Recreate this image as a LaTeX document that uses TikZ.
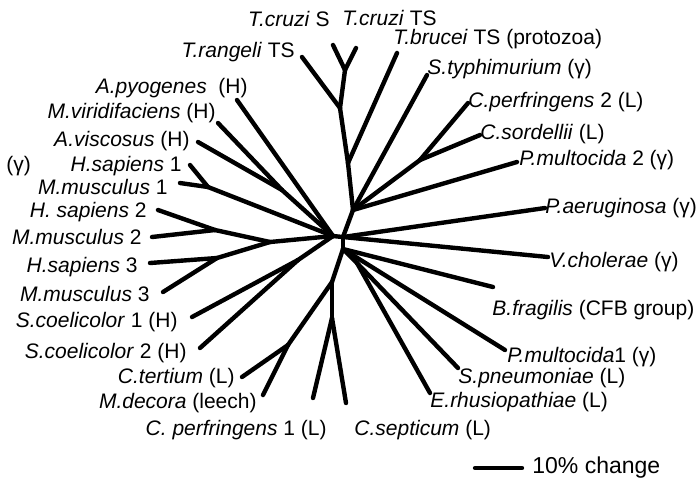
\documentclass[tikz,border=0pt]{standalone}
\usepackage{fontspec}
\setmainfont{Liberation Sans}
\usepackage{tkz-euclide}

\tikzset{
  branch/.style={line width=2.2pt, line cap=round, line join=round},
  taxon/.style={inner sep=0pt, font=\fontsize{10.5}{12}\selectfont},
}

\begin{document}
\begin{tikzpicture}[x=0.5pt, y=-0.5pt]
    \useasboundingbox (0,0) rectangle (700,479);
    % inner nodes of the tree
    \tkzDefPoints{333/236/L, 343/237/R, 353/210/U, 345/70/T1, 340/108/T2, 348/163/T3,
      420/160/Cn, 343/249/D, 357/263/Q, 332/282/K, 288/345/Mn, 332/318/Sn,
      282/190/V, 208/187/H1, 215/230/H2, 217/258/H3, 270/242/H23, 298/260/Sc}
    % leaves
    \tkzDefPoints{333/45/tcs, 356/48/tcts, 302/57/trts, 397/53/tbts, 427/75/styp,
      468/103/cpa, 480/135/csor, 517/162/pmb, 545/208/pae, 548/257/vch,
      493/287/bfr, 505/350/pma, 458/368/spn, 430/393/erh, 346/403/csep,
      313/398/cpb, 263/395/mdec, 242/377/cter, 200/348/scb, 192/317/sca,
      163/292/mmc, 150/263/hsc, 152/237/mmb, 158/210/hsb, 180/183/mma,
      190/165/hsa, 198/142/avis, 218/123/mvir, 237/100/apyo}
    \tkzDefPoints{475/468/sba, 522/468/sbb}
    \tkzDrawSegments[branch](T1,tcs T1,tcts T1,T2 T2,trts T2,T3 T3,tbts T3,U
      U,styp U,Cn Cn,cpa Cn,csor U,pmb U,R R,pae R,vch R,D)
    \tkzDrawSegments[branch](D,bfr D,pma D,Q Q,spn Q,erh D,K K,Sn Sn,cpb Sn,csep
      K,Mn Mn,cter Mn,mdec)
    \tkzDrawSegments[branch](L,R L,apyo L,V V,mvir V,avis L,H1 H1,hsa H1,mma
      L,H23 H23,H2 H2,hsb H2,mmb H23,H3 H3,hsc H3,mmc L,Sc Sc,sca Sc,scb)
    \tkzDrawSegment[branch](sba,sbb)
    % labels, right side
    \node[taxon, anchor=base east] (ltcs) at (330,26) {\textit{T.cruzi} S};
    \node[taxon, anchor=base west] (ltcts) at (342,25) {\textit{T.cruzi} TS};
    \node[taxon, anchor=base east] (ltrts) at (295,57) {\textit{T.rangeli} TS};
    \node[taxon, anchor=base west] (ltbts) at (393,44) {\textit{T.brucei} TS (protozoa)};
    \node[taxon, anchor=base west] (lstyp) at (427,74) {\textit{S.typhimurium} (γ)};
    \node[taxon, anchor=base west] (lcpa) at (468,107) {\textit{C.perfringens} 2 (L)};
    \node[taxon, anchor=base west] (lcsor) at (480,139) {\textit{C.sordellii} (L)};
    \node[taxon, anchor=base west] (lpmb) at (519,165) {\textit{P.multocida} 2 (γ)};
    \node[taxon, anchor=base west] (lpae) at (545,213) {\textit{P.aeruginosa} (γ)};
    \node[taxon, anchor=base west] (lvch) at (549,267) {\textit{V.cholerae} (γ)};
    \node[taxon, anchor=base west] (lbfr) at (492,315) {\textit{B.fragilis} (CFB group)};
    \node[taxon, anchor=base west] (lpma) at (507,362) {\textit{P.multocida}1 (γ)};
    \node[taxon, anchor=base west] (lspn) at (458,383) {\textit{S.pneumoniae} (L)};
    \node[taxon, anchor=base west] (lerh) at (430,407) {\textit{E.rhusiopathiae} (L)};
    \node[taxon, anchor=base west] (lcsep) at (354,435) {\textit{C.septicum} (L)};
    % labels, left side
    \node[taxon, anchor=base east] (lcpb) at (327,435) {\textit{C. perfringens} 1 (L)};
    \node[taxon, anchor=base east] (lmdec) at (257,408) {\textit{M.decora} (leech)};
    \node[taxon, anchor=base east] (lcter) at (235,383) {\textit{C.tertium} (L)};
    \node[taxon, anchor=base east] (lscb) at (187,358) {\textit{S.coelicolor} 2 (H)};
    \node[taxon, anchor=base east] (lsca) at (178,327) {\textit{S.coelicolor} 1 (H)};
    \node[taxon, anchor=base east] (lmmc) at (150,301) {\textit{M.musculus} 3};
    \node[taxon, anchor=base east] (lhsc) at (138,272) {\textit{H.sapiens} 3};
    \node[taxon, anchor=base east] (lmmb) at (142,244) {\textit{M.musculus} 2};
    \node[taxon, anchor=base east] (lhsb) at (147,217) {\textit{H. sapiens} 2};
    \node[taxon, anchor=base east] (lmma) at (168,194) {\textit{M.musculus} 1};
    \node[taxon, anchor=base east] (lhsa) at (182,171) {\textit{H.sapiens} 1};
    \node[taxon, anchor=base west] (lgam) at (6,171) {(γ)};
    \node[taxon, anchor=base east] (lavis) at (190,146) {\textit{A.viscosus} (H)};
    \node[taxon, anchor=base east] (lmvir) at (216,118) {\textit{M.viridifaciens} (H)};
    \node[taxon, anchor=base east] (lapyo) at (248,93) {\textit{A.pyogenes}\ \ (H)};
    % scale bar
    \node[taxon, anchor=base west, font=\fontsize{11.5}{13}\selectfont] (lscale) at (532,473) {10\% change};
\end{tikzpicture}
\end{document}
